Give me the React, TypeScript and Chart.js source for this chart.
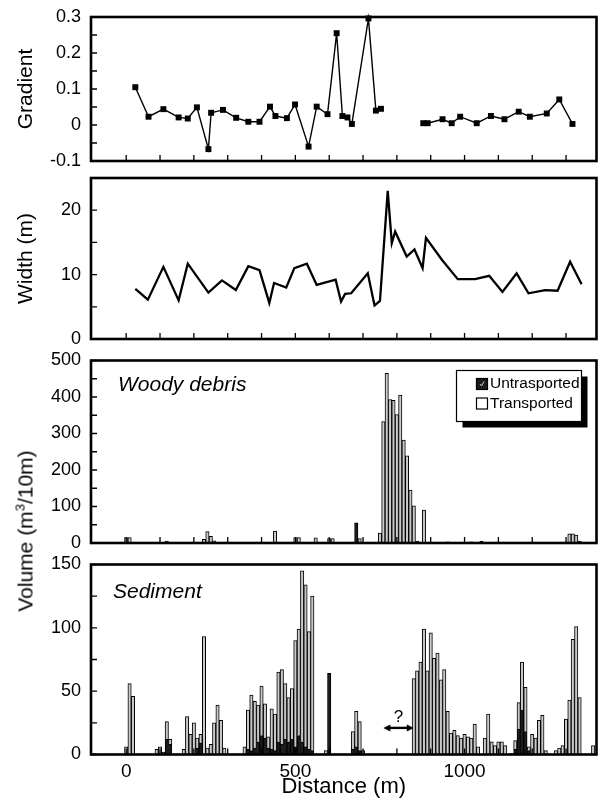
import React, { useEffect, useRef } from 'react';
import { Chart, registerables } from 'chart.js';

Chart.register(...registerables);

const FONT = '"Liberation Sans", Arial, Helvetica, sans-serif';

// ---------- shared x axis ----------
const distanceMin = -104;
const distanceMax = 1390;
const distanceTicks = [0, 100, 200, 300, 400, 500, 600, 700, 800, 900, 1000, 1100, 1200, 1300];
const distanceLabels = [0, 500, 1000];

// ---------- Gradient ----------
const gradientTicks = [-0.1, 0, 0.1, 0.2, 0.3];
const gradientDistance = [
  27, 66, 110, 155, 182, 209, 243, 251, 286, 325,
  361, 394, 425, 441, 475, 499, 539, 563, 595, 622,
  639, 654, 667, 716, 738, 753, 815, 878, 891, 935,
  962, 987, 1036, 1078, 1118, 1160, 1193, 1243, 1280, 1319,
];
const gradientValue = [
  0.105, 0.023, 0.044, 0.021, 0.018, 0.049, -0.067, 0.034, 0.042, 0.02,
  0.009, 0.009, 0.051, 0.025, 0.019, 0.057, -0.06, 0.051, 0.03, 0.255,
  0.025, 0.021, 0.003, 0.296, 0.04, 0.045, null, 0.005, 0.005, 0.016,
  0.005, 0.023, 0.005, 0.025, 0.016, 0.037, 0.023, 0.032, 0.071, 0.003,
];

// ---------- Width ----------
const widthTicks = [0, 10, 20];
const widthMax = 25;
const widthDistance = [
  27, 64, 110, 155, 182, 243, 283, 324, 361, 394,
  423, 437, 473, 497, 534, 563, 619, 635, 647, 665,
  714, 734, 750, 773, 785, 795, 829, 852, 876, 886,
  933, 980, 1031, 1073, 1112, 1154, 1189, 1238, 1275, 1312,
  1346,
];
const widthValue = [
  7.8, 6.1, 11.2, 6.0, 11.7, 7.2, 9.1, 7.6, 11.3, 10.7,
  5.6, 8.7, 8.0, 11.0, 11.7, 8.4, 9.2, 5.8, 7.0, 7.1,
  10.2, 5.2, 5.9, 23.0, 14.9, 16.7, 12.8, 13.9, 11.0, 15.7,
  12.3, 9.3, 9.3, 9.8, 7.3, 10.2, 7.1, 7.6, 7.5, 12.0,
  8.5,
];

// ---------- Woody debris (m3 / 10 m) ----------
const woodyTicks = [0, 100, 200, 300, 400, 500];
const woodyDistance = [
  0, 10, 120, 230, 240, 250, 260, 440, 500, 510,
  560, 600, 610, 680, 690, 750, 760, 770, 780, 790,
  800, 810, 820, 830, 840, 850, 860, 880, 950, 1020,
  1050, 1310, 1320, 1330, 1340,
];
const woodyUntransported = [
  0, 0, 0, 0, 0, 0, 0, 0, 0, 0,
  0, 0, 0, 55, 0, 0, 0, 0, 0, 0,
  0, 0, 0, 0, 0, 0, 0, 0, 0, 0,
  5, 0, 0, 0, 0,
];
const woodyTransported = [
  15, 15, 5, 10, 31, 18, 6, 33, 15, 15,
  14, 12, 12, 0, 12, 27, 333, 465, 393, 391,
  352, 405, 282, 239, 145, 102, 5, 90, 3, 3,
  0, 25, 25, 22, 5,
];

// ---------- Sediment (m3 / 10 m) ----------
const sedimentTicks = [0, 50, 100, 150];
const sedimentDistance = [
  0, 10, 20, 90, 100, 110, 120, 130, 170, 180,
  190, 200, 210, 220, 230, 240, 250, 260, 270, 280,
  290, 350, 360, 370, 380, 390, 400, 410, 420, 430,
  440, 450, 460, 470, 480, 490, 500, 510, 520, 530,
  540, 550, 590, 600, 670, 680, 690, 700, 850, 860,
  870, 880, 890, 900, 910, 920, 930, 940, 950, 960,
  970, 980, 990, 1000, 1010, 1020, 1030, 1040, 1060, 1070,
  1080, 1090, 1100, 1110, 1120, 1140, 1150, 1160, 1170, 1180,
  1190, 1200, 1210, 1220, 1230, 1240, 1270, 1280, 1290, 1300,
  1310, 1320, 1330, 1340, 1380,
];
const sedimentUntransported = [
  0, 0, 0, 0, 0, 0, 12, 8, 0, 0,
  0, 0, 5, 9, 0, 0, 0, 0, 0, 0,
  0, 0, 4, 3, 5, 10, 15, 13, 5, 4,
  3, 10, 8, 12, 10, 12, 6, 15, 10, 6,
  4, 3, 0, 64, 4, 6, 3, 0, 0, 0,
  0, 0, 0, 0, 0, 0, 0, 0, 0, 0,
  0, 0, 0, 0, 0, 0, 0, 0, 0, 0,
  0, 0, 0, 0, 0, 0, 4, 20, 35, 18,
  3, 0, 0, 0, 0, 0, 0, 0, 0, 0,
  0, 0, 0, 0, 0,
];
const sedimentTransported = [
  6, 56, 46, 4, 6, 2, 14, 4, 4, 30,
  16, 25, 8, 7, 93, 5, 8, 25, 39, 27,
  5, 6, 31, 44, 37, 29, 39, 27, 9, 32,
  29, 55, 59, 44, 35, 40, 84, 84, 135, 128,
  93, 122, 3, 0, 14, 28, 23, 3, 60, 66,
  73, 99, 66, 96, 76, 80, 59, 67, 34, 17,
  19, 15, 13, 16, 14, 13, 24, 6, 13, 32,
  10, 7, 10, 10, 7, 1, 7, 21, 38, 35,
  3, 16, 13, 27, 31, 3, 3, 5, 7, 28,
  43, 91, 101, 45, 7,
];

// unmeasured reach annotation ("?" arrow) in the sediment panel
const gapFrom = 760;
const gapTo = 850;
const gapLevel = 21;

const seriesLabels = ['Untrasported', 'Transported'];
const untransportedColor = '#1c1c1c';
const transportedColor = '#c9c9c9';

// ---------- plugins ----------
const framePlugin = {
  id: 'frameTicks',
  afterDraw(chart: any) {
    const { ctx, chartArea: a, scales } = chart;
    const xs = scales.x;
    const ys = scales.y;
    ctx.save();
    ctx.strokeStyle = '#000';
    ctx.lineWidth = 1.3;
    const vals = ys.ticks.map((t: any) => t.value);
    const all = [...vals];
    for (let i = 0; i < vals.length - 1; i++) all.push((vals[i] + vals[i + 1]) / 2);
    ctx.beginPath();
    all.forEach((v: number) => {
      const py = ys.getPixelForValue(v);
      ctx.moveTo(a.left, py);
      ctx.lineTo(a.left + 6, py);
    });
    distanceTicks.forEach((v) => {
      const px = xs.getPixelForValue(v);
      ctx.moveTo(px, a.bottom);
      ctx.lineTo(px, a.bottom - 6);
    });
    ctx.stroke();
    ctx.lineWidth = 2.6;
    ctx.strokeRect(a.left, a.top, a.right - a.left, a.bottom - a.top);
    ctx.restore();
  },
};

const panelLabelPlugin = {
  id: 'panelLabel',
  afterDraw(chart: any, _args: any, opts: any) {
    if (!opts || !opts.text) return;
    const { ctx, chartArea: a } = chart;
    ctx.save();
    ctx.fillStyle = '#000';
    ctx.font = `italic 21px ${FONT}`;
    ctx.textBaseline = 'alphabetic';
    ctx.textAlign = 'left';
    ctx.fillText(opts.text, a.left + opts.dx, a.top + opts.dy);
    ctx.restore();
  },
};

const boxLegendPlugin = {
  id: 'boxLegend',
  afterDraw(chart: any, _args: any, opts: any) {
    if (!opts || !opts.show) return;
    const { ctx, chartArea: a } = chart;
    const w = 125;
    const h = 51;
    const x0 = a.right - 15 - w;
    const y0 = a.top + 10;
    ctx.save();
    ctx.fillStyle = '#000';
    ctx.fillRect(x0 + 6, y0 + 6, w, h);
    ctx.fillStyle = '#fff';
    ctx.fillRect(x0, y0, w, h);
    ctx.strokeStyle = '#000';
    ctx.lineWidth = 1.2;
    ctx.strokeRect(x0, y0, w, h);
    chart.data.datasets.forEach((ds: any, i: number) => {
      const cy = y0 + 13.5 + i * 19.5;
      ctx.fillStyle = i === 0 ? ds.backgroundColor : '#fff';
      ctx.fillRect(x0 + 20, cy - 5.5, 11, 11);
      ctx.lineWidth = 1.2;
      ctx.strokeRect(x0 + 20, cy - 5.5, 11, 11);
      if (i === 0) {
        ctx.strokeStyle = '#ccc';
        ctx.lineWidth = 1;
        ctx.beginPath();
        ctx.moveTo(x0 + 23.5, cy);
        ctx.lineTo(x0 + 25, cy + 2);
        ctx.lineTo(x0 + 27.5, cy - 2.5);
        ctx.stroke();
        ctx.strokeStyle = '#000';
      }
      ctx.fillStyle = '#000';
      ctx.font = `15.5px ${FONT}`;
      ctx.textBaseline = 'middle';
      ctx.textAlign = 'left';
      ctx.fillText(ds.label, x0 + 33.5, cy);
    });
    ctx.restore();
  },
};

const gapArrowPlugin = {
  id: 'gapArrow',
  afterDraw(chart: any, _args: any, opts: any) {
    if (!opts || !opts.show) return;
    const { ctx } = chart;
    const xs = chart.scales.x;
    const ys = chart.scales.y;
    const x1 = xs.getPixelForValue(opts.from);
    const x2 = xs.getPixelForValue(opts.to);
    const py = ys.getPixelForValue(opts.level);
    ctx.save();
    ctx.strokeStyle = '#000';
    ctx.fillStyle = '#000';
    ctx.lineWidth = 2.4;
    ctx.beginPath();
    ctx.moveTo(x1 + 5, py);
    ctx.lineTo(x2 - 5, py);
    ctx.stroke();
    ctx.beginPath();
    ctx.moveTo(x1, py);
    ctx.lineTo(x1 + 7, py - 3.5);
    ctx.lineTo(x1 + 7, py + 3.5);
    ctx.closePath();
    ctx.moveTo(x2, py);
    ctx.lineTo(x2 - 7, py - 3.5);
    ctx.lineTo(x2 - 7, py + 3.5);
    ctx.closePath();
    ctx.fill();
    ctx.font = `17px ${FONT}`;
    ctx.textAlign = 'center';
    ctx.textBaseline = 'alphabetic';
    ctx.fillText('?', (x1 + x2) / 2, py - 6);
    ctx.restore();
  },
};

// ---------- scale builders ----------
function xScale(showLabels: boolean) {
  return {
    type: 'linear',
    min: distanceMin,
    max: distanceMax,
    offset: false,
    stacked: true,
    display: showLabels,
    grid: { display: false, drawTicks: false, offset: false },
    border: { display: false },
    afterBuildTicks: (s: any) => {
      s.ticks = distanceTicks.map((v) => ({ value: v }));
    },
    ticks: {
      autoSkip: false,
      maxRotation: 0,
      minRotation: 0,
      padding: 6,
      color: '#000',
      font: { family: FONT, size: 19 },
      callback: (v: any) => (distanceLabels.includes(Number(v)) ? String(v) : ''),
    },
    title: {
      display: showLabels,
      text: 'Distance (m)',
      color: '#000',
      font: { family: FONT, size: 22 },
      padding: { top: 0, bottom: 2 },
    },
    afterFit: (s: any) => {
      s.paddingLeft = 0;
      s.paddingRight = 0;
      if (showLabels) s.height = 47.5;
    },
  };
}

function yScale(tickVals: number[], maxVal: number, titleText: string | null, stacked: boolean) {
  return {
    type: 'linear',
    min: tickVals[0],
    max: maxVal,
    stacked,
    grid: { display: false, drawTicks: false },
    border: { display: false },
    afterBuildTicks: (s: any) => {
      s.ticks = tickVals.map((v) => ({ value: v }));
    },
    ticks: {
      padding: 10,
      color: '#000',
      font: { family: FONT, size: 18 },
      callback: (v: any) => String(v),
    },
    title: {
      display: !!titleText,
      text: titleText || '',
      color: '#000',
      font: { family: FONT, size: 21 },
      padding: { top: 13.5, bottom: 0 },
    },
    afterFit: (s: any) => {
      s.width = 91;
      s.paddingTop = 0;
      s.paddingBottom = 0;
    },
  };
}

function commonOptions(padding: any) {
  return {
    responsive: false,
    animation: false,
    events: [],
    layout: { padding },
    plugins: {
      legend: { display: false },
      tooltip: { enabled: false },
      title: { display: false },
    },
  };
}

function gradientConfig(): any {
  return {
    type: 'line',
    data: {
      datasets: [
        {
          label: 'Gradient',
          data: gradientDistance.map((d, i) => ({ x: d, y: gradientValue[i] })),
          borderColor: '#000',
          borderWidth: 1.4,
          tension: 0,
          pointStyle: 'rect',
          pointRadius: 4.2,
          pointBackgroundColor: '#000',
          pointBorderColor: '#000',
          pointBorderWidth: 0,
          spanGaps: false,
          clip: false,
        },
      ],
    },
    options: {
      ...commonOptions({ top: 17, bottom: 14, left: 0, right: 4.5 }),
      scales: {
        x: xScale(false),
        y: yScale(gradientTicks, gradientTicks[gradientTicks.length - 1], 'Gradient', false),
      },
    },
    plugins: [framePlugin],
  };
}

function widthConfig(): any {
  return {
    type: 'line',
    data: {
      datasets: [
        {
          label: 'Width (m)',
          data: widthDistance.map((d, i) => ({ x: d, y: widthValue[i] })),
          borderColor: '#000',
          borderWidth: 2.3,
          tension: 0,
          pointRadius: 0,
          clip: false,
        },
      ],
    },
    options: {
      ...commonOptions({ top: 13, bottom: 16, left: 0, right: 4.5 }),
      scales: { x: xScale(false), y: yScale(widthTicks, widthMax, 'Width (m)', false) },
    },
    plugins: [framePlugin],
  };
}

function barDatasets(dist: number[], untr: number[], tr: number[]) {
  return [
    {
      label: seriesLabels[0],
      data: dist.map((d, i) => ({ x: d, y: untr[i] || null })),
      backgroundColor: untransportedColor,
      borderColor: '#000',
      borderWidth: 1,
      barPercentage: 1,
      categoryPercentage: 1,
    },
    {
      label: seriesLabels[1],
      data: dist.map((d, i) => ({ x: d, y: tr[i] || null })),
      backgroundColor: transportedColor,
      borderColor: '#000',
      borderWidth: 1,
      barPercentage: 1,
      categoryPercentage: 1,
    },
  ];
}

function woodyConfig(): any {
  const base = commonOptions({ top: 13.5, bottom: 14, left: 0, right: 4.5 });
  return {
    type: 'bar',
    data: { datasets: barDatasets(woodyDistance, woodyUntransported, woodyTransported) },
    options: {
      ...base,
      plugins: {
        ...base.plugins,
        panelLabel: { text: 'Woody debris', dx: 27, dy: 30.5 },
        boxLegend: { show: true },
      },
      scales: {
        x: xScale(false),
        y: yScale(woodyTicks, woodyTicks[woodyTicks.length - 1], null, true),
      },
    },
    plugins: [framePlugin, panelLabelPlugin, boxLegendPlugin],
  };
}

function sedimentConfig(): any {
  const base = commonOptions({ top: 12.5, bottom: 2, left: 0, right: 4.5 });
  return {
    type: 'bar',
    data: { datasets: barDatasets(sedimentDistance, sedimentUntransported, sedimentTransported) },
    options: {
      ...base,
      plugins: {
        ...base.plugins,
        panelLabel: { text: 'Sediment', dx: 22, dy: 33.5 },
        gapArrow: { show: true, from: gapFrom, to: gapTo, level: gapLevel },
      },
      scales: {
        x: xScale(true),
        y: yScale(sedimentTicks, sedimentTicks[sedimentTicks.length - 1], null, true),
      },
    },
    plugins: [framePlugin, panelLabelPlugin, gapArrowPlugin],
  };
}

function ChartCanvas({ top, height, build }: { top: number; height: number; build: () => any }) {
  const ref = useRef<HTMLCanvasElement>(null);
  useEffect(() => {
    if (!ref.current) return;
    const chart = new Chart(ref.current, build());
    return () => chart.destroy();
  }, []);
  return (
    <canvas
      ref={ref}
      width={601}
      height={height}
      style={{ position: 'absolute', left: 0, top, width: 601, height }}
    />
  );
}

export default function App() {
  return (
    <div
      style={{
        position: 'fixed',
        left: 0,
        top: 0,
        width: 601,
        height: 804,
        background: '#fff',
        overflow: 'hidden',
      }}
    >
      <ChartCanvas top={0} height={175} build={gradientConfig} />
      <ChartCanvas top={165} height={190} build={widthConfig} />
      <ChartCanvas top={347} height={210} build={woodyConfig} />
      <ChartCanvas top={552} height={252} build={sedimentConfig} />
      <div
        style={{
          position: 'absolute',
          left: 25,
          top: 531,
          transform: 'translate(-50%, -50%) rotate(-90deg)',
          whiteSpace: 'nowrap',
          fontFamily: FONT,
          fontSize: 21,
          lineHeight: 1,
          color: '#000',
        }}
      >
        Volume (m<sup style={{ fontSize: '0.62em', verticalAlign: 'super', lineHeight: 0 }}>3</sup>/10m)
      </div>
    </div>
  );
}
